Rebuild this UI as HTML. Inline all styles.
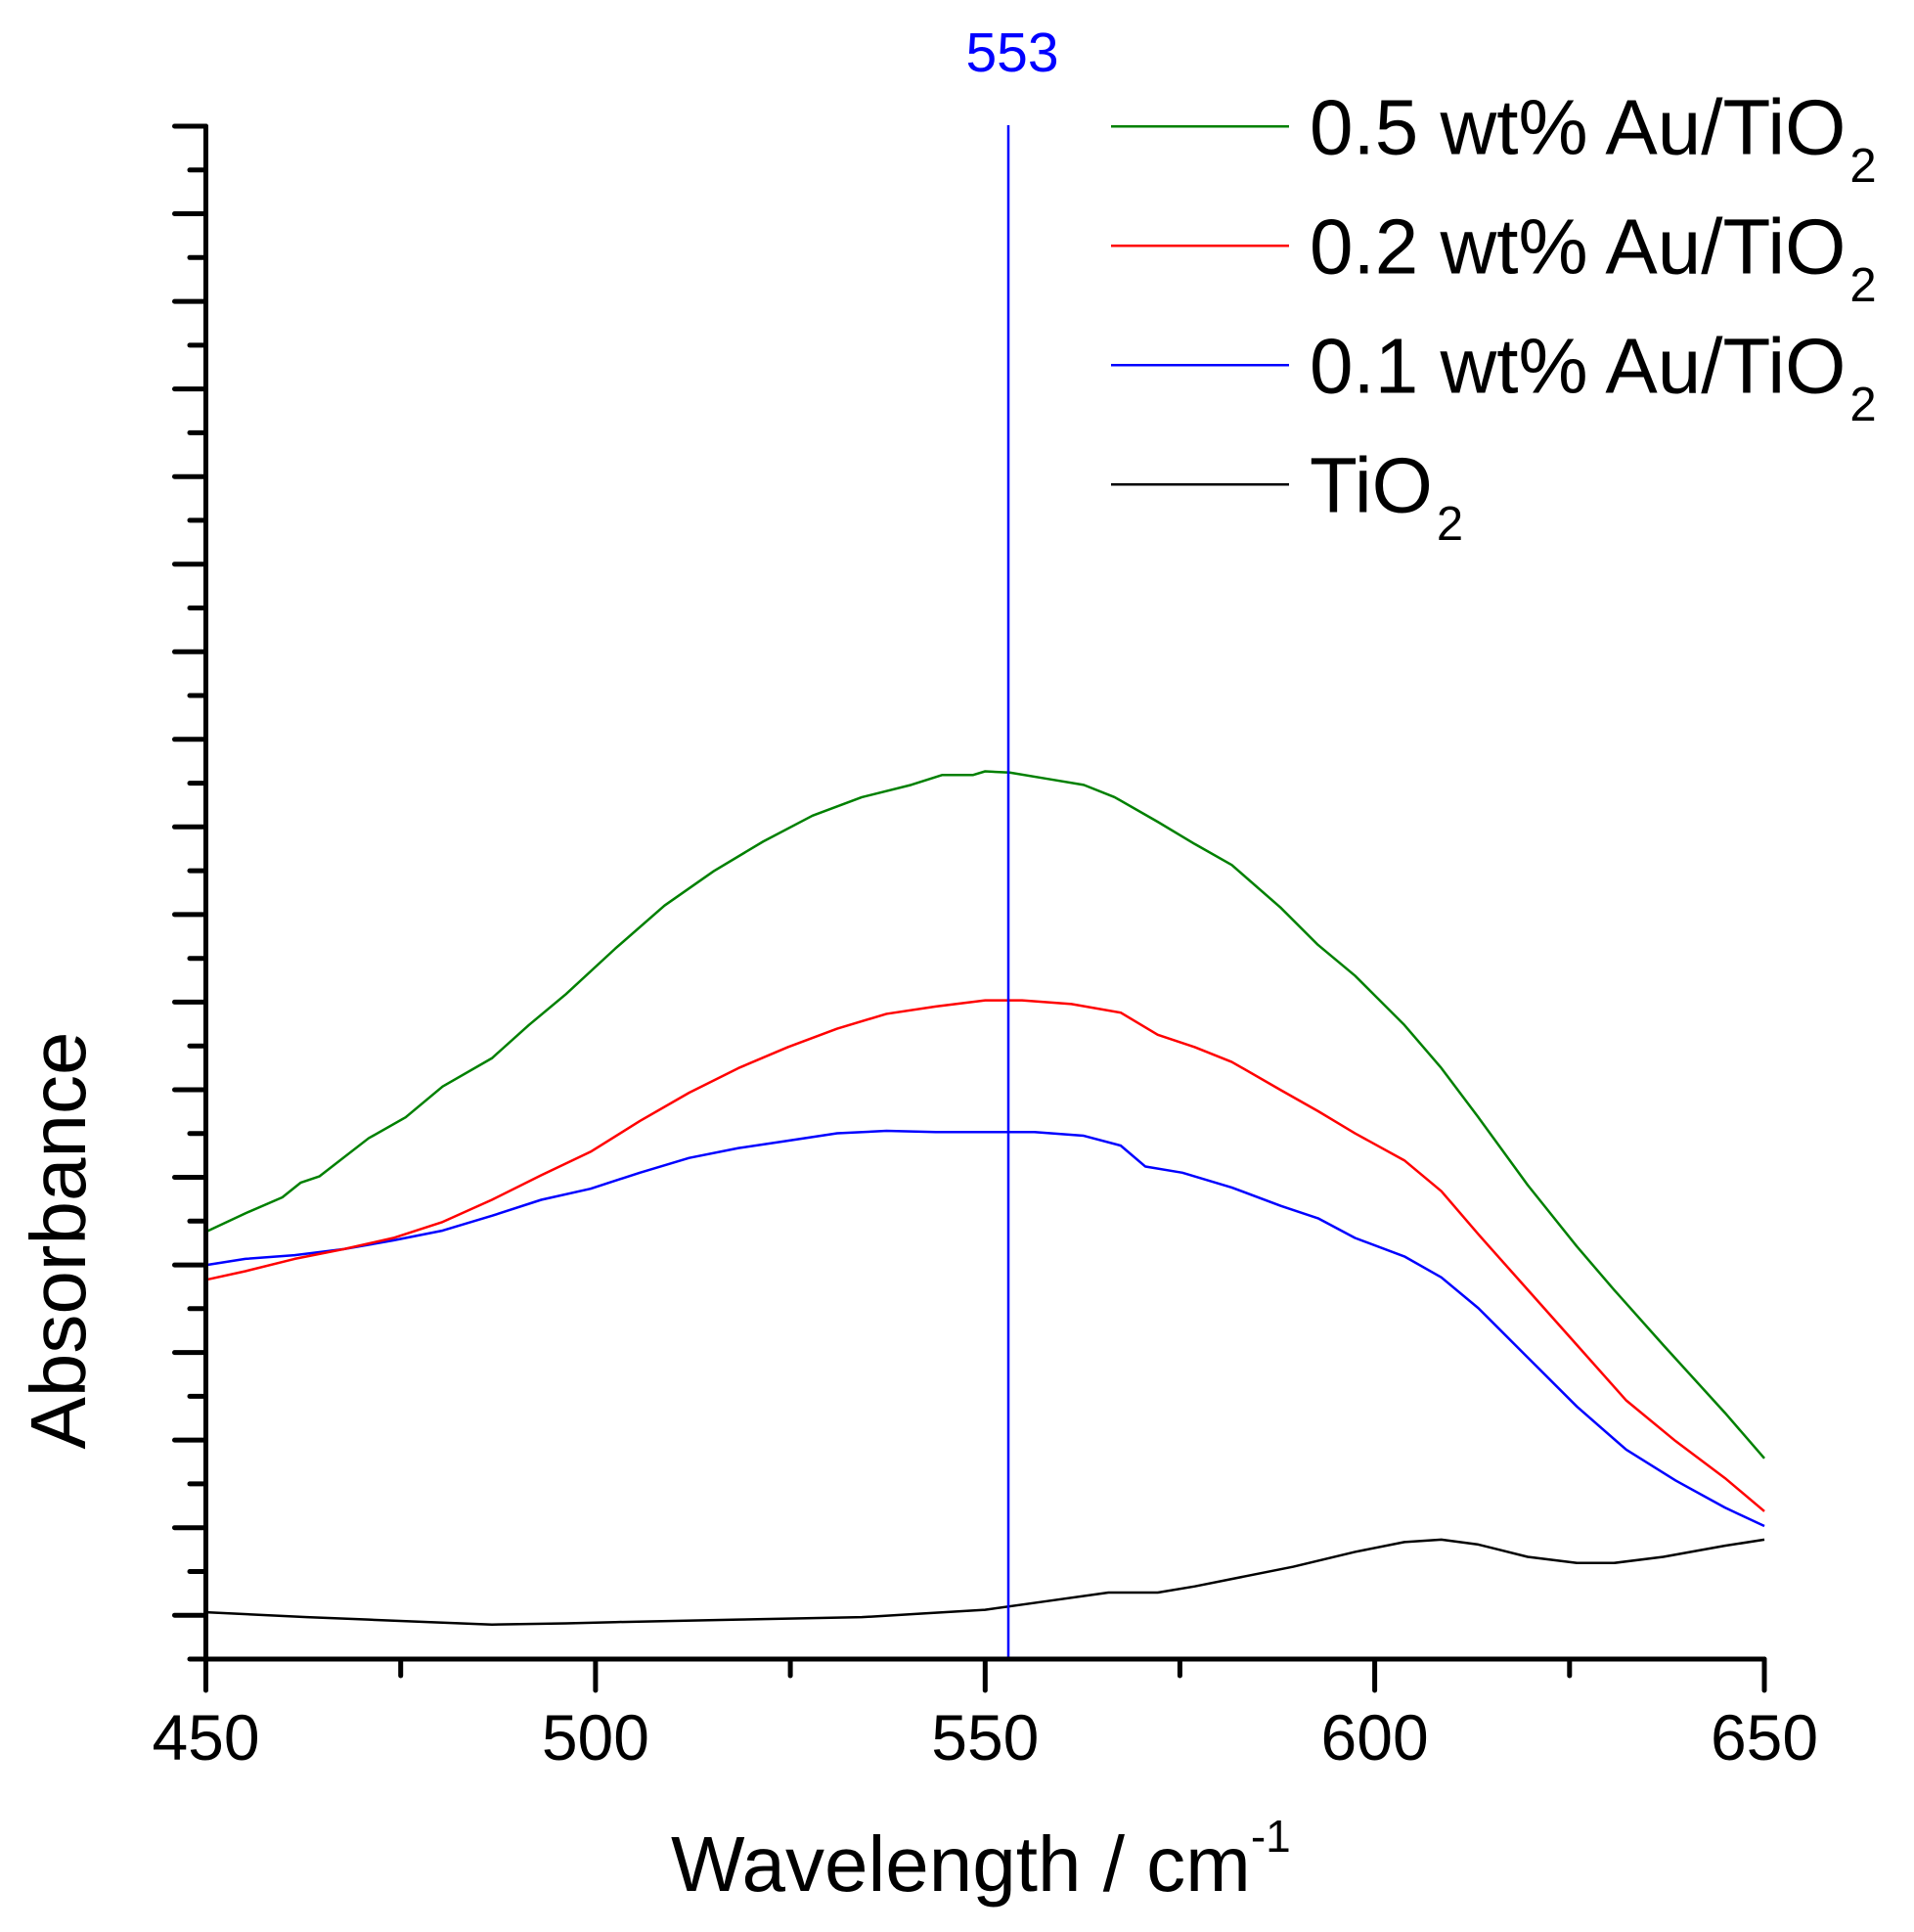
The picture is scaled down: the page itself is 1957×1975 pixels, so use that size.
<!DOCTYPE html>
<html>
<head>
<meta charset="utf-8">
<style>
html,body{margin:0;padding:0;background:#fff;}
svg{display:block;}
text{font-family:"Liberation Sans",Arial,sans-serif;}
</style>
</head>
<body>
<svg width="1957" height="1975" viewBox="0 0 1957 1975" xmlns="http://www.w3.org/2000/svg">
<rect width="1957" height="1975" fill="#fff"/>

<!-- curves (perceived coords transformed) -->
<g transform="matrix(1.2607 0 0 1.2586 -1.3 3.14)" fill="none" stroke-linejoin="round">
  <!-- TiO2 black -->
  <polyline vector-effect="non-scaling-stroke" stroke="#000" stroke-width="2.5" points="
  168,1307 250,1311 300,1313 350,1315 400,1317 460,1316 500,1315 600,1313 700,1311 750,1308 800,1305 850,1298 900,1291 940,1291 970,1286 1000,1280 1050,1270 1100,1258 1140,1250 1170,1248 1200,1252 1240,1262 1280,1267 1310,1267 1350,1262 1400,1253 1432,1248"/>
  <!-- 0.1 blue -->
  <polyline vector-effect="non-scaling-stroke" stroke="#0000ff" stroke-width="2.5" points="
  168,1025 200,1020 240,1017 280,1012 320,1005 360,997 400,985 440,972 480,963 520,950 560,938 600,930 640,924 680,918 720,916 760,917 800,917 840,917 880,920 910,928 930,945 960,950 1000,962 1040,977 1070,987 1100,1003 1140,1018 1170,1035 1200,1060 1240,1100 1280,1140 1320,1175 1360,1200 1400,1222 1432,1237"/>
  <!-- 0.2 red -->
  <polyline vector-effect="non-scaling-stroke" stroke="#ff0000" stroke-width="2.5" points="
  168,1037 200,1030 240,1020 280,1012 320,1003 360,990 400,972 440,952 480,933 520,908 560,885 600,865 640,848 680,833 720,821 760,815 800,810 830,810 870,813 910,820 940,838 970,848 1000,860 1040,883 1070,900 1100,918 1140,940 1170,965 1200,1000 1240,1045 1280,1090 1320,1135 1360,1168 1400,1198 1432,1225"/>
  <!-- 0.5 green -->
  <polyline vector-effect="non-scaling-stroke" stroke="#008000" stroke-width="2.5" points="
  168,998 200,983 230,970 245,958 260,953 300,922 330,905 360,880 400,857 430,830 460,805 500,768 540,733 580,705 620,681 660,660 700,645 740,635 765,627 790,627 800,624 820,625 850,630 880,635 905,645 940,665 970,683 1000,700 1040,735 1070,765 1100,790 1140,830 1170,865 1200,905 1240,960 1280,1010 1310,1045 1350,1090 1400,1145 1432,1182"/>
</g>

<!-- 553 marker -->
<line x1="1031" y1="128" x2="1031" y2="1696" stroke="#0000ff" stroke-width="2.5"/>
<text x="1035" y="73" font-size="57" fill="#0000ff" text-anchor="middle">553</text>

<!-- axes -->
<g stroke="#000" stroke-width="5" stroke-linecap="round">
  <line x1="210.5" y1="129" x2="210.5" y2="1696"/>
  <line x1="210.5" y1="1696" x2="1804" y2="1696"/>
  <!-- y ticks -->
  <line x1="178.5" y1="129" x2="210.5" y2="129"/>
  <line x1="194" y1="173.8" x2="210.5" y2="173.8"/>
  <line x1="178.5" y1="218.5" x2="210.5" y2="218.5"/>
  <line x1="194" y1="263.3" x2="210.5" y2="263.3"/>
  <line x1="178.5" y1="308.1" x2="210.5" y2="308.1"/>
  <line x1="194" y1="352.9" x2="210.5" y2="352.9"/>
  <line x1="178.5" y1="397.6" x2="210.5" y2="397.6"/>
  <line x1="194" y1="442.4" x2="210.5" y2="442.4"/>
  <line x1="178.5" y1="487.2" x2="210.5" y2="487.2"/>
  <line x1="194" y1="531.9" x2="210.5" y2="531.9"/>
  <line x1="178.5" y1="576.7" x2="210.5" y2="576.7"/>
  <line x1="194" y1="621.5" x2="210.5" y2="621.5"/>
  <line x1="178.5" y1="666.3" x2="210.5" y2="666.3"/>
  <line x1="194" y1="711" x2="210.5" y2="711"/>
  <line x1="178.5" y1="755.8" x2="210.5" y2="755.8"/>
  <line x1="194" y1="800.6" x2="210.5" y2="800.6"/>
  <line x1="178.5" y1="845.3" x2="210.5" y2="845.3"/>
  <line x1="194" y1="890.1" x2="210.5" y2="890.1"/>
  <line x1="178.5" y1="934.9" x2="210.5" y2="934.9"/>
  <line x1="194" y1="979.7" x2="210.5" y2="979.7"/>
  <line x1="178.5" y1="1024.4" x2="210.5" y2="1024.4"/>
  <line x1="194" y1="1069.2" x2="210.5" y2="1069.2"/>
  <line x1="178.5" y1="1114" x2="210.5" y2="1114"/>
  <line x1="194" y1="1158.7" x2="210.5" y2="1158.7"/>
  <line x1="178.5" y1="1203.5" x2="210.5" y2="1203.5"/>
  <line x1="194" y1="1248.3" x2="210.5" y2="1248.3"/>
  <line x1="178.5" y1="1293.1" x2="210.5" y2="1293.1"/>
  <line x1="194" y1="1337.8" x2="210.5" y2="1337.8"/>
  <line x1="178.5" y1="1382.6" x2="210.5" y2="1382.6"/>
  <line x1="194" y1="1427.4" x2="210.5" y2="1427.4"/>
  <line x1="178.5" y1="1472.1" x2="210.5" y2="1472.1"/>
  <line x1="194" y1="1516.9" x2="210.5" y2="1516.9"/>
  <line x1="178.5" y1="1561.7" x2="210.5" y2="1561.7"/>
  <line x1="194" y1="1606.5" x2="210.5" y2="1606.5"/>
  <line x1="178.5" y1="1651.2" x2="210.5" y2="1651.2"/>
  <line x1="194" y1="1696" x2="210.5" y2="1696"/>
  <!-- x ticks -->
  <line x1="210.5" y1="1696" x2="210.5" y2="1728"/>
  <line x1="409.7" y1="1696" x2="409.7" y2="1713"/>
  <line x1="608.9" y1="1696" x2="608.9" y2="1728"/>
  <line x1="808.1" y1="1696" x2="808.1" y2="1713"/>
  <line x1="1007.3" y1="1696" x2="1007.3" y2="1728"/>
  <line x1="1206.4" y1="1696" x2="1206.4" y2="1713"/>
  <line x1="1405.6" y1="1696" x2="1405.6" y2="1728"/>
  <line x1="1604.8" y1="1696" x2="1604.8" y2="1713"/>
  <line x1="1804" y1="1696" x2="1804" y2="1728"/>
</g>

<!-- x tick labels -->
<g font-size="66" fill="#000" text-anchor="middle">
  <text x="210.5" y="1799">450</text>
  <text x="608.9" y="1799">500</text>
  <text x="1007.3" y="1799">550</text>
  <text x="1405.6" y="1799">600</text>
  <text x="1804" y="1799">650</text>
</g>

<!-- axis titles -->
<text x="686" y="1933" font-size="80" fill="#000">Wavelength / cm<tspan font-size="46" dy="-40">-1</tspan></text>
<text transform="translate(87,1268) rotate(-90)" font-size="80" fill="#000" text-anchor="middle">Absorbance</text>

<!-- legend -->
<g stroke-width="2.5">
  <line x1="1136" y1="129.3" x2="1318" y2="129.3" stroke="#008000"/>
  <line x1="1136" y1="251.3" x2="1318" y2="251.3" stroke="#ff0000"/>
  <line x1="1136" y1="373.3" x2="1318" y2="373.3" stroke="#0000ff"/>
  <line x1="1136" y1="495.3" x2="1318" y2="495.3" stroke="#000000"/>
</g>
<g font-size="80" fill="#000">
  <text x="1339" y="157.5">0.5 wt% Au/TiO<tspan font-size="49" dx="4" dy="28.5">2</tspan></text>
  <text x="1339" y="279.5">0.2 wt% Au/TiO<tspan font-size="49" dx="4" dy="28.5">2</tspan></text>
  <text x="1339" y="401.5">0.1 wt% Au/TiO<tspan font-size="49" dx="4" dy="28.5">2</tspan></text>
  <text x="1339" y="523.5">TiO<tspan font-size="49" dx="4" dy="28.5">2</tspan></text>
</g>
</svg>
</body>
</html>
